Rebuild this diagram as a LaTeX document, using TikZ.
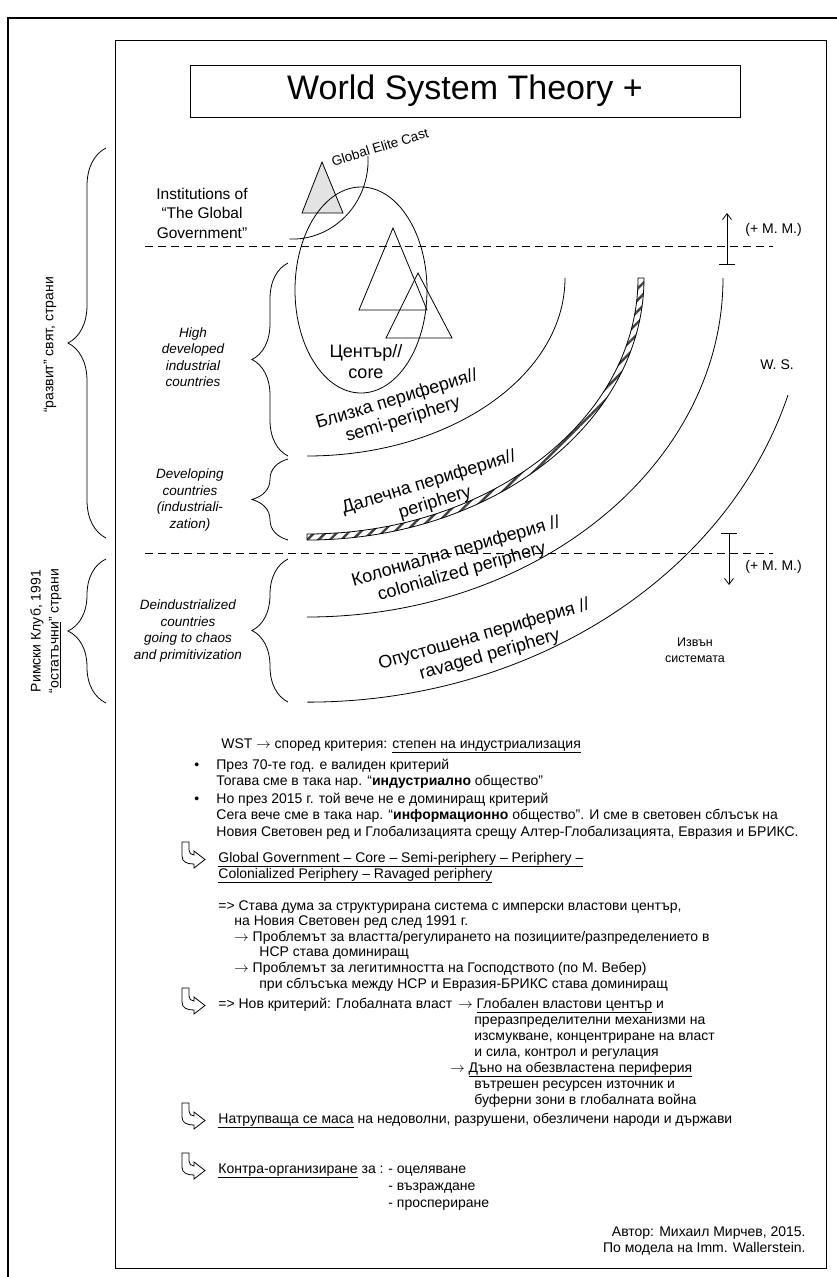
\documentclass[tikz,border=0pt]{standalone}
\usepackage{fontspec}
\setmainfont{Liberation Sans}
\usetikzlibrary{arrows.meta, decorations.pathreplacing, patterns.meta, positioning}
\newcommand{\thinarrow}{$\rightarrow$}
\tikzset{
    titlenode/.style = {draw, rectangle, inner sep=0em, minimum width=550pt, minimum height=52pt, font=\fontsize{34}{38}\selectfont},
    textnode/.style = {draw=none, fill=none, rectangle, inner sep=0em, anchor=base west, font=\fontsize{14}{16}\selectfont},
    smalltextnode/.style = {draw=none, fill=none, rectangle, inner sep=0em, align=center, font=\fontsize{14}{18}\selectfont},
    italicnode/.style = {draw=none, fill=none, rectangle, inner sep=0em, align=center, font=\fontsize{13.5}{16.5}\selectfont\itshape},
    zonenode/.style = {draw=none, fill=none, rectangle, inner sep=0em, align=center, font=\fontsize{18}{21}\selectfont},
    bigbrace/.style = {decorate, decoration={brace, amplitude=38pt}},
    smallbrace/.style = {decorate, decoration={brace, amplitude=36pt}},
    borderline/.style = {dash pattern=on 8pt off 5pt},
    shiftarrow/.style = {{Bar[width=16pt]}-{Straight Barb[length=6pt, width=9pt]}},
    bentarrow/.pic = {\draw (0,0) -- (0,14) .. controls (0,20) and (5,22) .. (12,22) -- (12,26) -- (23,17.5)
        -- (12,9) -- (12,13) .. controls (9,13) and (7,11) .. (7,8) -- (7,0) -- cycle;}
}

\begin{document}
\begin{tikzpicture}[x=1pt, y=-1pt, line width=0.8pt]
\useasboundingbox (0,0) rectangle (836,1277);
\draw[line width=1.6pt] (8,1290) -- (8,18) -- (850,18);
\draw (115,40) rectangle (826,1268);

\node[titlenode, name=title] at (465,91) {World System Theory +};

% left braces
\draw[bigbrace] (106,538) -- (106,148);
\draw[bigbrace] (106,703) -- (106,559);
\node[smalltextnode, name=developed, rotate=90] at (50,345) {“развит” свят, страни};
\node[smalltextnode, name=residual, rotate=90] at (46,631) {Римски Клуб, 1991\\“\underline{остатъчни}” страни};

\draw[smallbrace] (288,456) -- (288,263);
\draw[smallbrace] (288,540) -- (288,459);
\draw[smallbrace] (288,702) -- (288,559);
\node[italicnode, name=high] at (193,357) {High\\developed\\industrial\\countries};
\node[italicnode, name=developing] at (190,500) {Developing\\countries\\(industriali-\\zation)};
\node[italicnode, name=deind] at (188,631) {Deindustrialized\\countries\\going to chaos\\and primitivization};

% global government
\node[smalltextnode, name=inst, font=\fontsize{15.5}{19.5}\selectfont] at (202,213) {Institutions of\\“The Global\\Government”};
\draw[fill=gray!22] (322,162) -- (343,213) -- (302,213) -- cycle;
\draw (368,156) arc[start angle=-3, end angle=92, x radius=76, y radius=79];
\node[smalltextnode, name=elite, font=\fontsize{13.5}{16}\selectfont, rotate=17] at (380,147) {Global Elite Cast};

% core
\draw (361,290) ellipse [x radius=66, y radius=103];
\draw (393,228) -- (427,310) -- (359,310) -- cycle;
\draw (418,273) -- (452,338) -- (386,338) -- cycle;
\node[zonenode, name=core] at (366,362) {Център//\\core};

% zones
\draw (565,278) arc[start angle=0, end angle=90, x radius=258, y radius=178];
\draw[pattern={Lines[angle=45, distance=8pt, line width=2.4pt]}, pattern color=black!75]
    (644,278) arc[start angle=0, end angle=90, x radius=337, y radius=262]
    -- (307,534) arc[start angle=90, end angle=0, x radius=331, y radius=256] -- cycle;
\draw (723,278) arc[start angle=0, end angle=90, x radius=416, y radius=339];
\draw (788,395) arc[start angle=16, end angle=90, x radius=500, y radius=424];

\node[zonenode, name=semi, rotate=17] at (400,410) {Близка периферия//\\semi-periphery};
\node[zonenode, name=far, rotate=17] at (432,493) {Далечна периферия//\\periphery};
\node[zonenode, name=colon, rotate=16] at (459,562) {Колониална периферия //\\colonialized periphery};
\node[zonenode, name=ravaged, rotate=16] at (487,645) {Опустошена периферия //\\ravaged periphery};

% borders of the developed world
\coordinate (upperL) at (145,246);
\coordinate (upperR) at (773,246);
\coordinate (lowerL) at (145,553);
\coordinate (lowerR) at (773,553);
\draw[borderline] (upperL) -- (upperR);
\draw[borderline] (lowerL) -- (lowerR);

\coordinate (upFoot) at (727,265);
\coordinate (upHead) at (727,213);
\coordinate (downFoot) at (729,533);
\coordinate (downHead) at (729,585);
\draw[shiftarrow] (upFoot) -- (upHead);
\draw[shiftarrow] (downFoot) -- (downHead);
\node[smalltextnode, name=mmUp, anchor=west] at (745,230) {(+ М. М.)};
\node[smalltextnode, name=mmDown, anchor=west] at (745,567) {(+ М. М.)};
\node[smalltextnode, name=ws] at (777,365) {W. S.};
\node[smalltextnode, name=outside, font=\fontsize{12.5}{16}\selectfont] at (695,650) {Извън\\системата};

% text
\node[textnode, name=wst] at (221,748) {WST \thinarrow{} според критерия: \underline{степен на индустриализация}};
\node[textnode, name=dotA] at (194,769) {•};
\node[textnode, name=pointA] at (216,769) {През 70-те год. е валиден критерий};
\node[textnode, name=pointAb] at (216,785.5) {Тогава сме в така нар. “\textbf{индустриално} общество”};
\node[textnode, name=dotB] at (194,803) {•};
\node[textnode, name=pointB] at (216,803) {Но през 2015 г. той вече не е доминиращ критерий};
\node[textnode, name=pointBb] at (216,819.5) {Сега вече сме в така нар. “\textbf{информационно} общество”. И сме в световен сблъсък на};
\node[textnode, name=pointBc] at (216,836) {Новия Световен ред и Глобализацията срещу Алтер-Глобализацията, Евразия и БРИКС.};

\pic (arrA) at (182,842) {bentarrow};
\node[textnode, name=chain] at (218,862) {\underline{Global Government – Core – Semi-periphery – Periphery –}};
\node[textnode, name=chainb] at (218,878) {\underline{Colonialized Periphery – Ravaged periphery}};

\node[textnode, name=stava] at (218,910) {=> Става дума за структурирана система с имперски властови център,};
\node[textnode, name=nsr] at (234,925) {на Новия Световен ред след 1991 г.};
\node[textnode, name=probA] at (234,941) {\thinarrow{} Проблемът за властта/регулирането на позициите/разпределението в};
\node[textnode, name=probAb] at (259,956) {НСР става доминиращ};
\node[textnode, name=probB] at (234,972) {\thinarrow{} Проблемът за легитимността на Господството (по М. Вебер)};
\node[textnode, name=probBb] at (259,988) {при сблъсъка между НСР и Евразия-БРИКС става доминиращ};

\pic (arrB) at (182,988) {bentarrow};
\node[textnode, name=newcrit] at (218,1008) {=> Нов критерий: Глобалната власт};
\node[textnode, name=centre] at (458,1008) {\thinarrow{} \underline{Глобален властови център} и};
\node[textnode, name=mechA] at (474,1024) {преразпределителни механизми на};
\node[textnode, name=mechB] at (474,1040) {изсмукване, концентриране на власт};
\node[textnode, name=mechC] at (474,1056) {и сила, контрол и регулация};
\node[textnode, name=bottom] at (450,1072) {\thinarrow{} \underline{Дъно на обезвластена периферия}};
\node[textnode, name=sourceA] at (474,1088) {вътрешен ресурсен източник и};
\node[textnode, name=sourceB] at (474,1104) {буферни зони в глобалната война};

\pic (arrC) at (182,1103) {bentarrow};
\node[textnode, name=mass] at (218,1123) {\underline{Натрупваща се маса} на недоволни, разрушени, обезличени народи и държави};

\pic (arrD) at (182,1153) {bentarrow};
\node[textnode, name=counter] at (218,1173) {\underline{Контра-организиране} за :};
\node[textnode, name=aimA] at (388,1173) {- оцеляване};
\node[textnode, name=aimB] at (388,1190) {- възраждане};
\node[textnode, name=aimC] at (388,1207) {- проспериране};

\node[textnode, name=author, anchor=base east] at (806,1236) {Автор: Михаил Мирчев, 2015.};
\node[textnode, name=model, anchor=base east] at (806,1252) {По модела на Imm. Wallerstein.};
\end{tikzpicture}
\end{document}
